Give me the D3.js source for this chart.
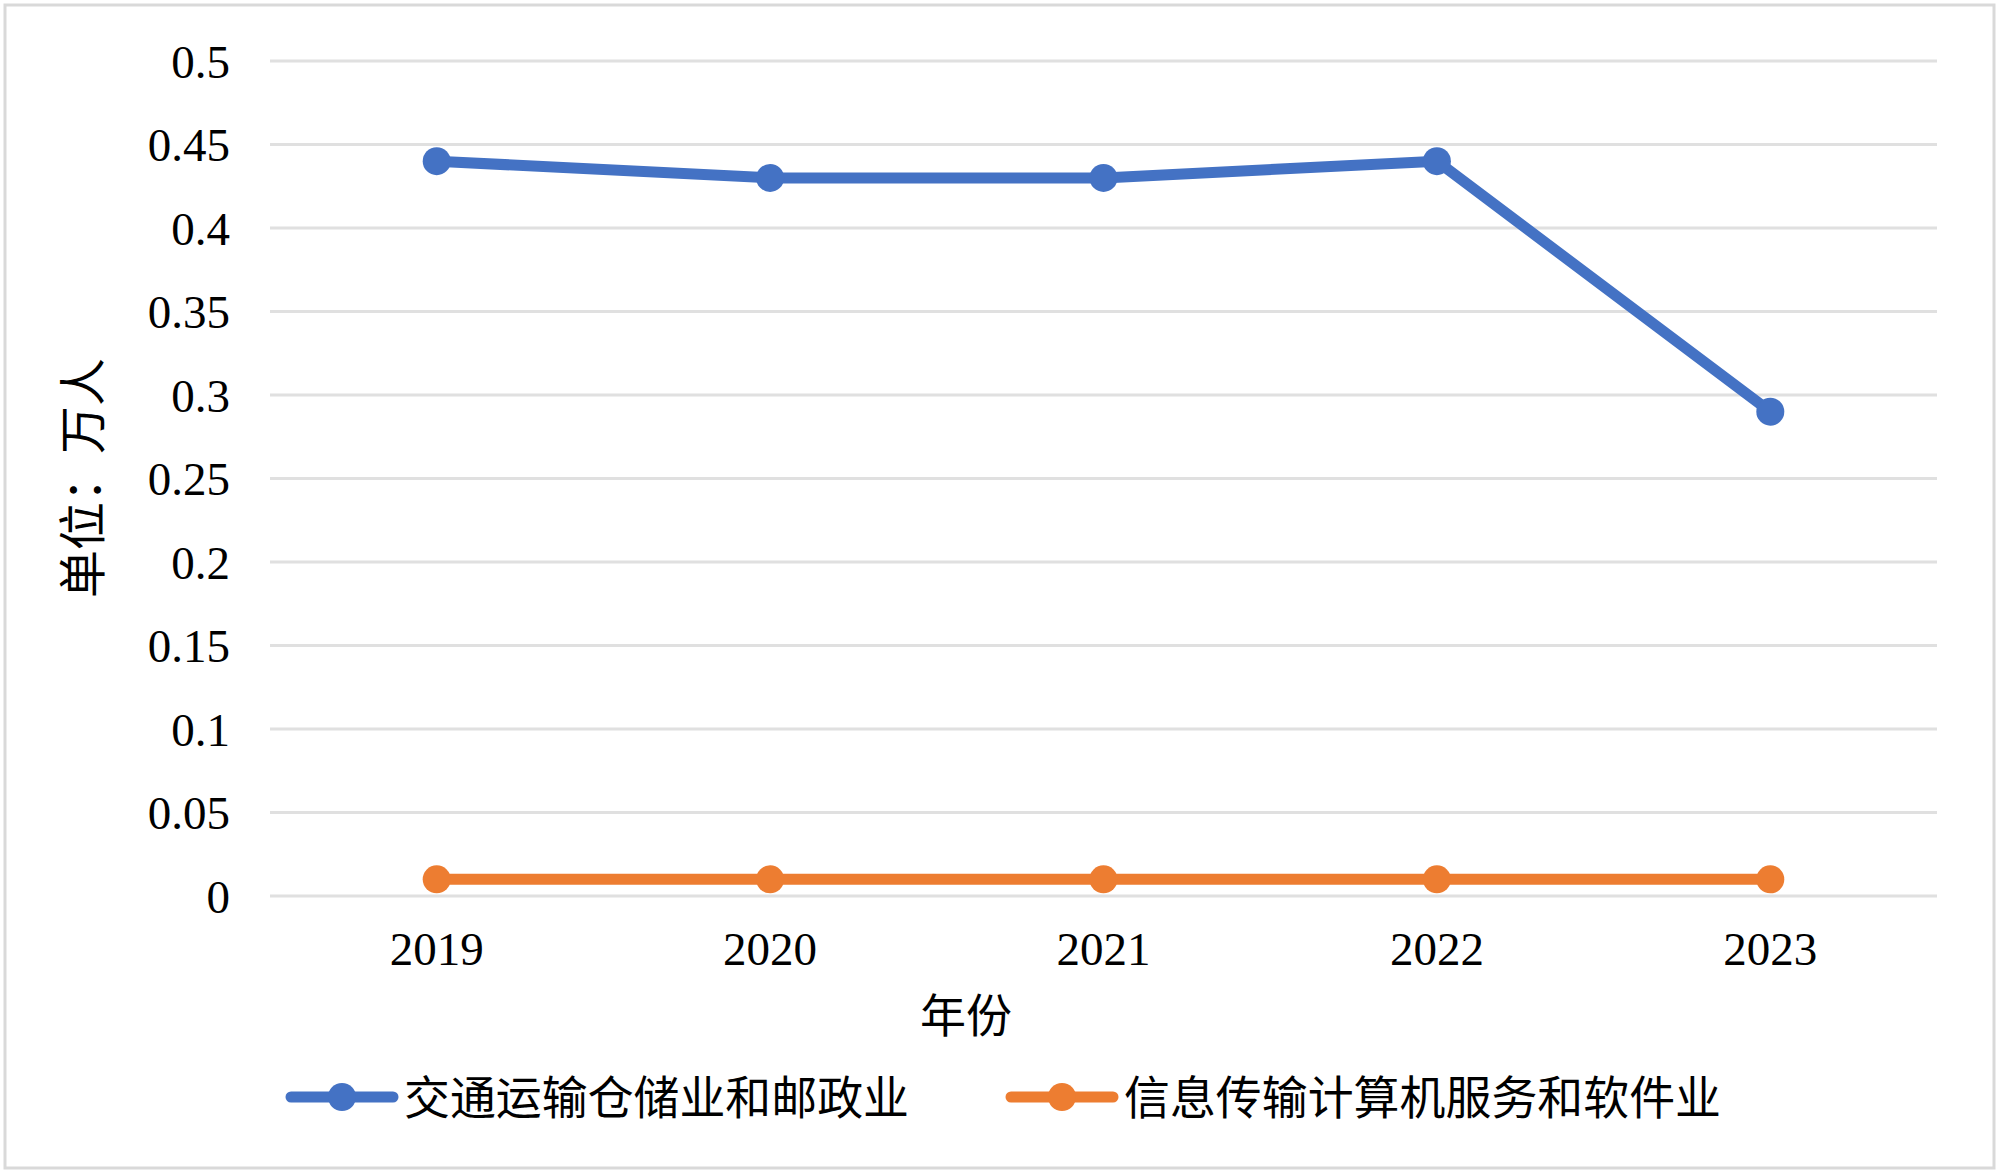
<!DOCTYPE html>
<html><head><meta charset="utf-8">
<script src="https://cdn.jsdelivr.net/npm/d3@7"></script>
<style>body{margin:0;background:#fff}svg{display:block}</style>
</head><body>
<svg id="c" width="2000" height="1175"></svg>
<script>
const years = ["2019","2020","2021","2022","2023"];
const seriesNames = ["交通运输仓储业和邮政业","信息传输计算机服务和软件业"];
const transport = [0.44,0.43,0.43,0.44,0.29];
const infotech = [0.01,0.01,0.01,0.01,0.01];
const yTicks = [0,0.05,0.1,0.15,0.2,0.25,0.3,0.35,0.4,0.45,0.5];
const colors = ["#4472C4","#ED7D31"];

const svg = d3.select("#c");
const L = 270, R = 1937, T = 61, B = 896;
const x = d3.scaleBand().domain(years).range([L,R]);
const y = d3.scaleLinear().domain([0,0.5]).range([B,T]);
const serif = "'Liberation Serif','Times New Roman',serif";
const cjk = "'Noto Sans CJK SC','Noto Sans CJK JP',sans-serif";

svg.append("rect").attr("x",5).attr("y",5).attr("width",1989).attr("height",1163)
  .attr("fill","#fff").attr("stroke","#d9d9d9").attr("stroke-width",3);

// gridlines
svg.append("g").selectAll("line").data(yTicks).join("line")
  .attr("x1",L).attr("x2",R).attr("y1",d=>y(d)).attr("y2",d=>y(d))
  .attr("stroke","#e0e0e0").attr("stroke-width",3);

// y axis labels
const yAxis = d3.axisLeft(y).tickValues(yTicks).tickSize(0).tickPadding(40).tickFormat(d=>String(d));
const gy = svg.append("g").attr("transform",`translate(${L},0)`).call(yAxis);
gy.select(".domain").remove();
gy.selectAll("text").attr("font-family",serif).attr("font-size",47).attr("fill","#000").attr("dy","0.35em");

// x axis labels
const xAxis = d3.axisBottom(x).tickSize(0).tickPadding(36);
const gx = svg.append("g").attr("transform",`translate(0,${B})`).call(xAxis);
gx.select(".domain").remove();
gx.selectAll("text").attr("font-family",serif).attr("font-size",47).attr("fill","#000");

// axis titles
svg.append("text").attr("x",966).attr("y",1032).attr("text-anchor","middle")
  .attr("font-family",cjk).attr("font-size",46).attr("fill","#000").text("年份");
svg.append("text").attr("transform","translate(100,478) rotate(-90)").attr("text-anchor","middle")
  .attr("font-family",cjk).attr("font-size",48).attr("fill","#000").text("单位：万人");

// lines
const data = [transport, infotech];
const line = d3.line().x((d,i)=>x(years[i])+x.bandwidth()/2).y(d=>y(d));
data.forEach((s,k)=>{
  svg.append("path").datum(s).attr("d",line).attr("fill","none")
    .attr("stroke",colors[k]).attr("stroke-width",11).attr("stroke-linejoin","round").attr("stroke-linecap","round");
  svg.append("g").selectAll("circle").data(s).join("circle")
    .attr("cx",(d,i)=>x(years[i])+x.bandwidth()/2).attr("cy",d=>y(d)).attr("r",14).attr("fill",colors[k]);
});

// legend
const legendItems = [
  {x0:291, tx:404, tl:505},
  {x0:1011, tx:1124, tl:597}
];
legendItems.forEach((it,k)=>{
  const g = svg.append("g");
  g.append("line").attr("x1",it.x0).attr("x2",it.x0+102).attr("y1",1097).attr("y2",1097)
    .attr("stroke",colors[k]).attr("stroke-width",11).attr("stroke-linecap","round");
  g.append("circle").attr("cx",it.x0+51).attr("cy",1097).attr("r",14).attr("fill",colors[k]);
  g.append("text").attr("x",it.tx).attr("y",1097).attr("dy","0.36em")
    .attr("font-family",cjk).attr("font-size",46).attr("fill","#000")
    .attr("textLength",it.tl).attr("lengthAdjust","spacingAndGlyphs").text(seriesNames[k]);
});
</script>
</body></html>
